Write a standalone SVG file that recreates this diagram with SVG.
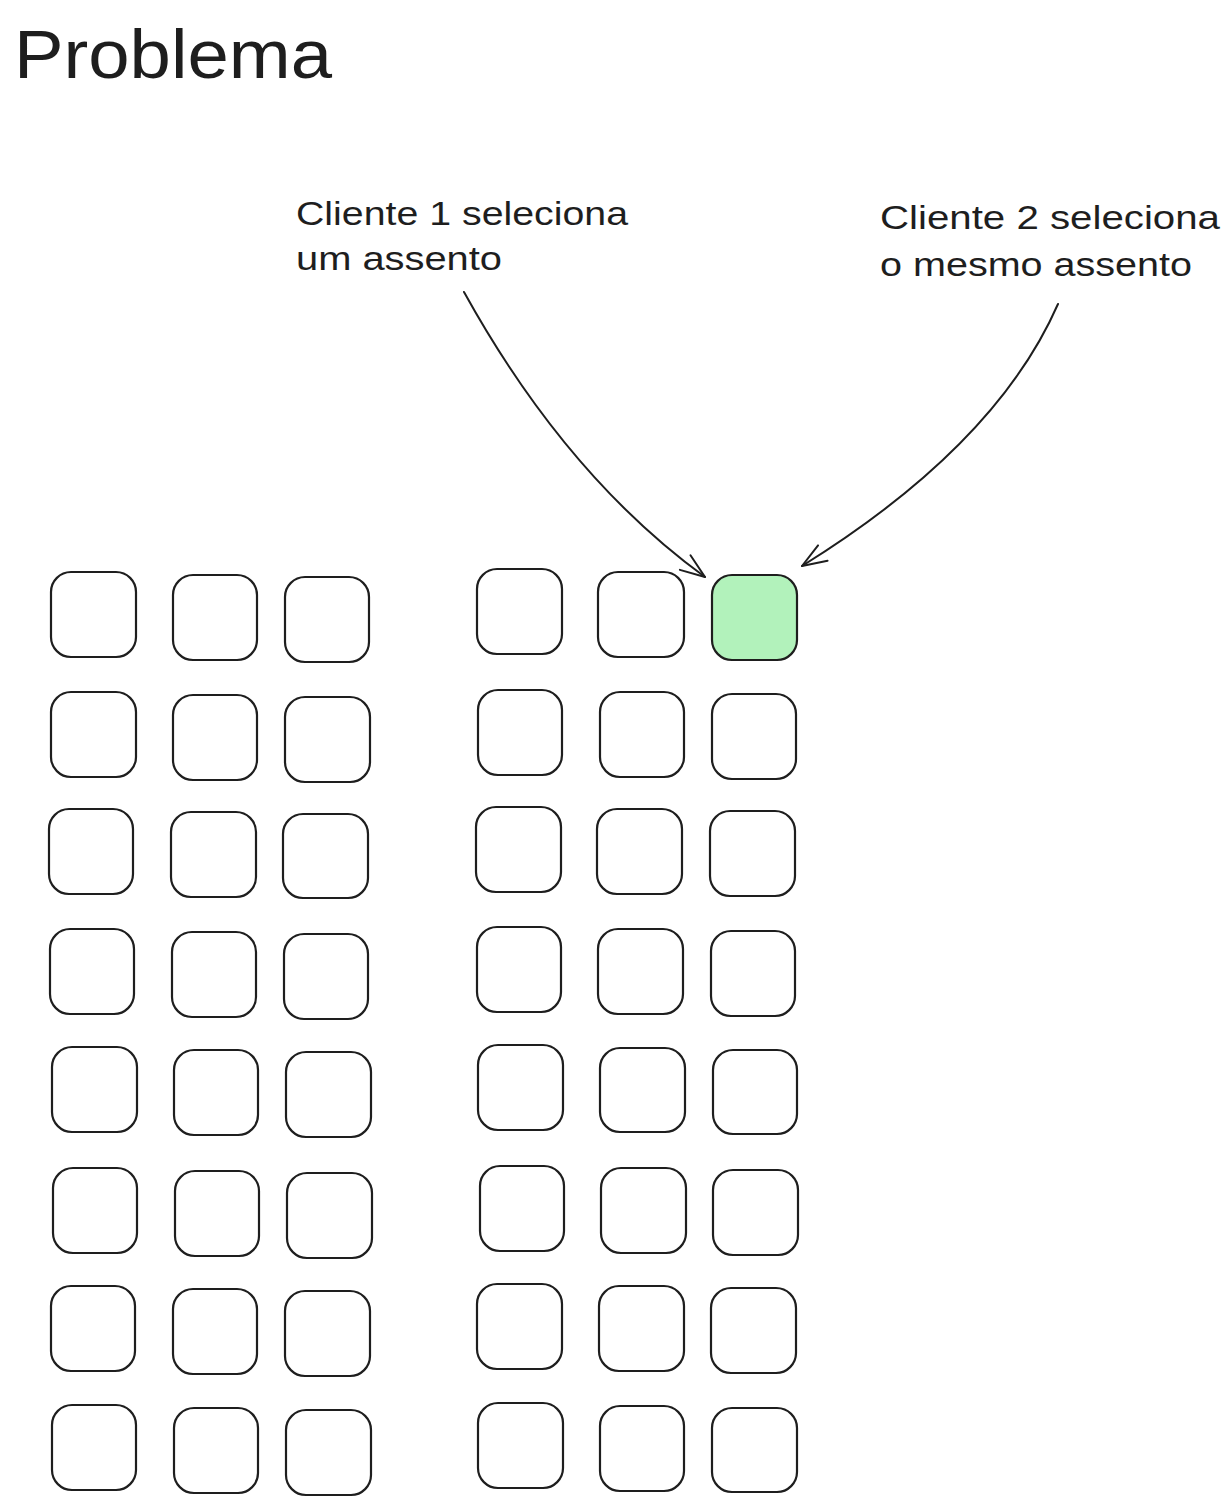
<svg xmlns="http://www.w3.org/2000/svg" width="1232" height="1504" viewBox="0 0 1232 1504">
<defs>
<style>
.seat{fill:#ffffff;stroke:#1e1e1e;stroke-width:2.2;}
.sel{fill:#b2f2bb;stroke:#1e1e1e;stroke-width:2.2;}
.title{font-family:"Liberation Sans","DejaVu Sans",sans-serif;font-size:68px;fill:#1e1e1e;}
.lbl{font-family:"Liberation Sans","DejaVu Sans",sans-serif;font-size:33px;fill:#1e1e1e;}
.conn{fill:none;stroke:#1e1e1e;stroke-width:2;stroke-linecap:round;stroke-linejoin:round;}
</style>
<marker id="arrow" markerUnits="userSpaceOnUse" markerWidth="40" markerHeight="40" viewBox="-30 -20 40 40" refX="0" refY="0" orient="auto">
<path d="M -24.5 -9 L 0 0 L -24.5 9" fill="none" stroke="#1e1e1e" stroke-width="2" stroke-linecap="round" stroke-linejoin="round"/>
</marker>
</defs>
<rect width="1232" height="1504" fill="#ffffff"/>
<g id="title"><text class="title" x="14" y="78" textLength="318" lengthAdjust="spacingAndGlyphs">Problema</text></g>
<g id="label1">
<text class="lbl" x="296" y="225" textLength="332" lengthAdjust="spacingAndGlyphs">Cliente 1 seleciona</text>
<text class="lbl" x="296" y="270" textLength="206" lengthAdjust="spacingAndGlyphs">um assento</text>
</g>
<g id="label2">
<text class="lbl" x="880" y="229" textLength="340" lengthAdjust="spacingAndGlyphs">Cliente 2 seleciona</text>
<text class="lbl" x="880" y="276" textLength="312" lengthAdjust="spacingAndGlyphs">o mesmo assento</text>
</g>
<g id="connectors">
<path class="conn" d="M 464 292 Q 565.5 475.5 705 577" marker-end="url(#arrow)"/>
<path class="conn" d="M 1058 304 Q 996 445.5 802 566" marker-end="url(#arrow)"/>
</g>
<g id="seats">
<g id="r1">
<rect class="seat" x="51" y="572" width="85" height="85" rx="20"/>
<rect class="seat" x="173" y="575" width="84" height="85" rx="20"/>
<rect class="seat" x="285" y="577" width="84" height="85" rx="20"/>
<rect class="seat" x="477" y="569" width="85" height="85" rx="20"/>
<rect class="seat" x="598" y="572" width="86" height="85" rx="20"/>
<rect id="selected-seat" class="sel" x="712" y="575" width="85" height="85" rx="20"/>
</g>
<g id="r2">
<rect class="seat" x="51" y="692" width="85" height="85" rx="20"/>
<rect class="seat" x="173" y="695" width="84" height="85" rx="20"/>
<rect class="seat" x="285" y="697" width="85" height="85" rx="20"/>
<rect class="seat" x="478" y="690" width="84" height="85" rx="20"/>
<rect class="seat" x="600" y="692" width="84" height="85" rx="20"/>
<rect class="seat" x="712" y="694" width="84" height="85" rx="20"/>
</g>
<g id="r3">
<rect class="seat" x="49" y="809" width="84" height="85" rx="20"/>
<rect class="seat" x="171" y="812" width="85" height="85" rx="20"/>
<rect class="seat" x="283" y="814" width="85" height="84" rx="20"/>
<rect class="seat" x="476" y="807" width="85" height="85" rx="20"/>
<rect class="seat" x="597" y="809" width="85" height="85" rx="20"/>
<rect class="seat" x="710" y="811" width="85" height="85" rx="20"/>
</g>
<g id="r4">
<rect class="seat" x="50" y="929" width="84" height="85" rx="20"/>
<rect class="seat" x="172" y="932" width="84" height="85" rx="20"/>
<rect class="seat" x="284" y="934" width="84" height="85" rx="20"/>
<rect class="seat" x="477" y="927" width="84" height="85" rx="20"/>
<rect class="seat" x="598" y="929" width="85" height="85" rx="20"/>
<rect class="seat" x="711" y="931" width="84" height="85" rx="20"/>
</g>
<g id="r5">
<rect class="seat" x="52" y="1047" width="85" height="85" rx="20"/>
<rect class="seat" x="174" y="1050" width="84" height="85" rx="20"/>
<rect class="seat" x="286" y="1052" width="85" height="85" rx="20"/>
<rect class="seat" x="478" y="1045" width="85" height="85" rx="20"/>
<rect class="seat" x="600" y="1048" width="85" height="84" rx="20"/>
<rect class="seat" x="713" y="1050" width="84" height="84" rx="20"/>
</g>
<g id="r6">
<rect class="seat" x="53" y="1168" width="84" height="85" rx="20"/>
<rect class="seat" x="175" y="1171" width="84" height="85" rx="20"/>
<rect class="seat" x="287" y="1173" width="85" height="85" rx="20"/>
<rect class="seat" x="480" y="1166" width="84" height="85" rx="20"/>
<rect class="seat" x="601" y="1168" width="85" height="85" rx="20"/>
<rect class="seat" x="713" y="1170" width="85" height="85" rx="20"/>
</g>
<g id="r7">
<rect class="seat" x="51" y="1286" width="84" height="85" rx="20"/>
<rect class="seat" x="173" y="1289" width="84" height="85" rx="20"/>
<rect class="seat" x="285" y="1291" width="85" height="85" rx="20"/>
<rect class="seat" x="477" y="1284" width="85" height="85" rx="20"/>
<rect class="seat" x="599" y="1286" width="85" height="85" rx="20"/>
<rect class="seat" x="711" y="1288" width="85" height="85" rx="20"/>
</g>
<g id="r8">
<rect class="seat" x="52" y="1405" width="84" height="85" rx="20"/>
<rect class="seat" x="174" y="1408" width="84" height="85" rx="20"/>
<rect class="seat" x="286" y="1410" width="85" height="85" rx="20"/>
<rect class="seat" x="478" y="1403" width="85" height="85" rx="20"/>
<rect class="seat" x="600" y="1406" width="84" height="85" rx="20"/>
<rect class="seat" x="712" y="1408" width="85" height="84" rx="20"/>
</g>
</g>
</svg>
